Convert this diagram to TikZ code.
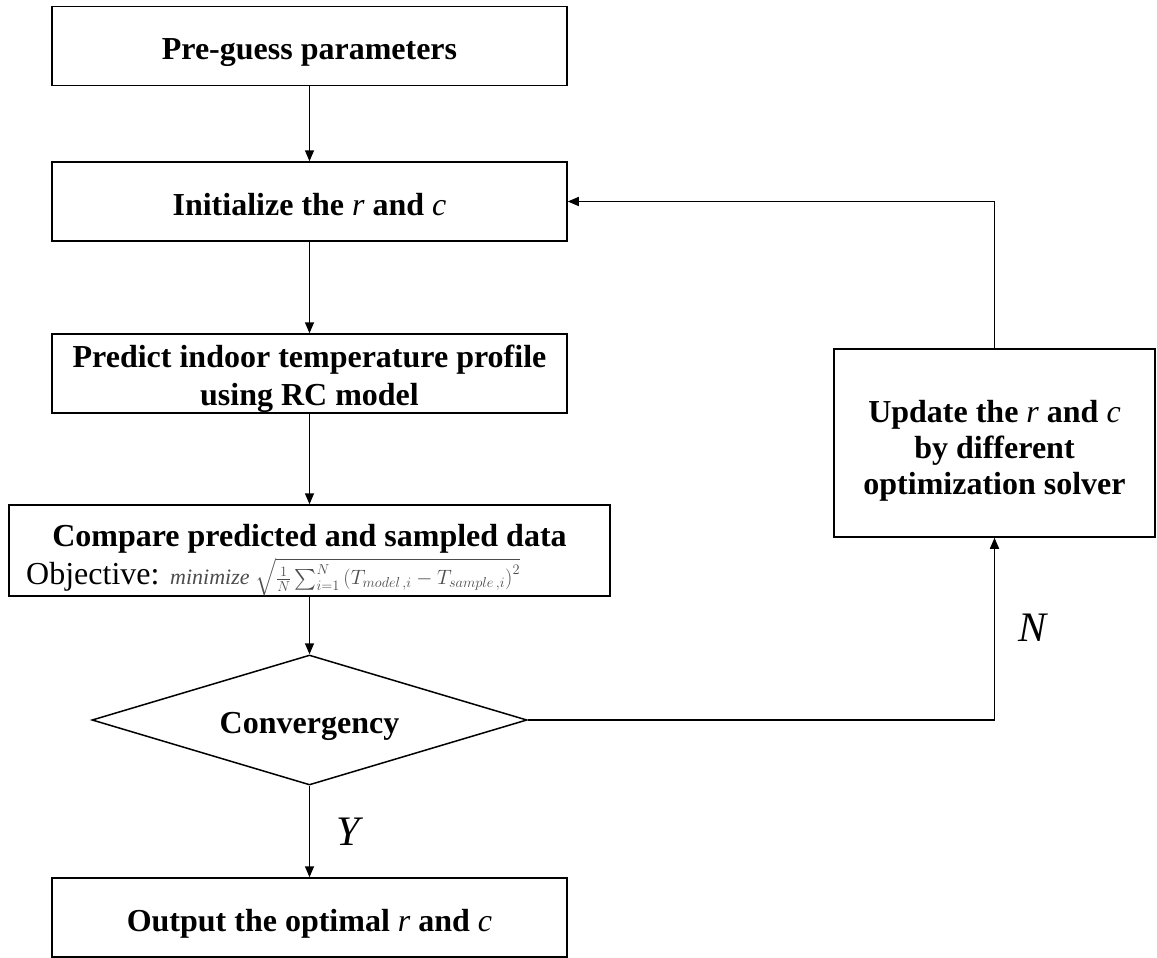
\documentclass[tikz,border=0pt]{standalone}
\usepackage{exscale}
\usepackage{fontspec}
\setmainfont{Liberation Serif}
\usetikzlibrary{arrows.meta,shapes.geometric}
\begin{document}
\begin{tikzpicture}[x=1pt,y=-1pt,
  bigfont/.style={font=\fontsize{32}{37}\selectfont\bfseries},
  box/.style={draw,line width=1.5pt,minimum width=515pt,minimum height=79pt,inner sep=0pt,align=center,bigfont,text height=34pt,text depth=7pt},
  frame/.style={draw,line width=1.5pt,inner sep=0pt},
  txt/.style={inner sep=0pt,align=center,bigfont},
  conn/.style={line width=1.5pt,-{Triangle[length=11pt,width=9pt]}},
  lbl/.style={inner sep=0pt,font=\fontsize{42}{42}\selectfont\itshape}]
\useasboundingbox (0,0) rectangle (1157,958);
\node[box] (pre) at (309.5,46) {Pre-guess parameters};
\node[box] (init) at (309.5,201.5) {Initialize the {\mdseries\itshape r} and {\mdseries\itshape c}};
\node[frame,minimum width=515pt,minimum height=79pt] (pred) at (309.5,373.5) {};
\node[txt,font=\fontsize{32}{38}\selectfont\bfseries] (predt) at (309.5,378.5) {Predict indoor temperature profile\\using RC model};
\node[frame,minimum width=601pt,minimum height=91pt] (cmp) at (309.5,550.5) {};
\node[txt] (cmpt) at (309.5,539) {Compare predicted and sampled data};
\node[anchor=west,inner sep=0pt,font=\fontsize{32}{37}\selectfont] (obj) at (26,577) {Objective: {\color{black!70}\fontsize{22}{25}\selectfont$\mathit{minimize}\;\sqrt{\frac{1}{N}\sum_{i=1}^{N}\left(T_{model\,,i}-T_{sample\,,i}\right)^{2}}$}};
\node[draw,diamond,aspect=3.35,line width=1.5pt,minimum width=435pt,minimum height=130pt,inner sep=0pt,bigfont,text height=34pt,text depth=7pt] (conv) at (309.5,720) {Convergency};
\node[box] (out) at (309.5,917.5) {Output the optimal {\mdseries\itshape r} and {\mdseries\itshape c}};
\node[frame,minimum width=321pt,minimum height=188pt] (upd) at (994.5,443) {};
\node[txt,font=\fontsize{32}{36}\selectfont\bfseries] (updt) at (994.5,451) {Update the {\mdseries\itshape r} and {\mdseries\itshape c}\\by different\\optimization solver};
\draw[conn] (pre) -- (init);
\draw[conn] (init) -- (pred);
\draw[conn] (pred) -- (cmp);
\draw[conn] (cmp) -- (conv);
\draw[conn] (conv) -- (out);
\draw[conn] (conv.east) -| (upd.south);
\draw[conn] (upd.north) |- (init.east);
\node[lbl] (ylbl) at (348,832) {Y};
\node[lbl] (nlbl) at (1032,628) {N};
\end{tikzpicture}
\end{document}
